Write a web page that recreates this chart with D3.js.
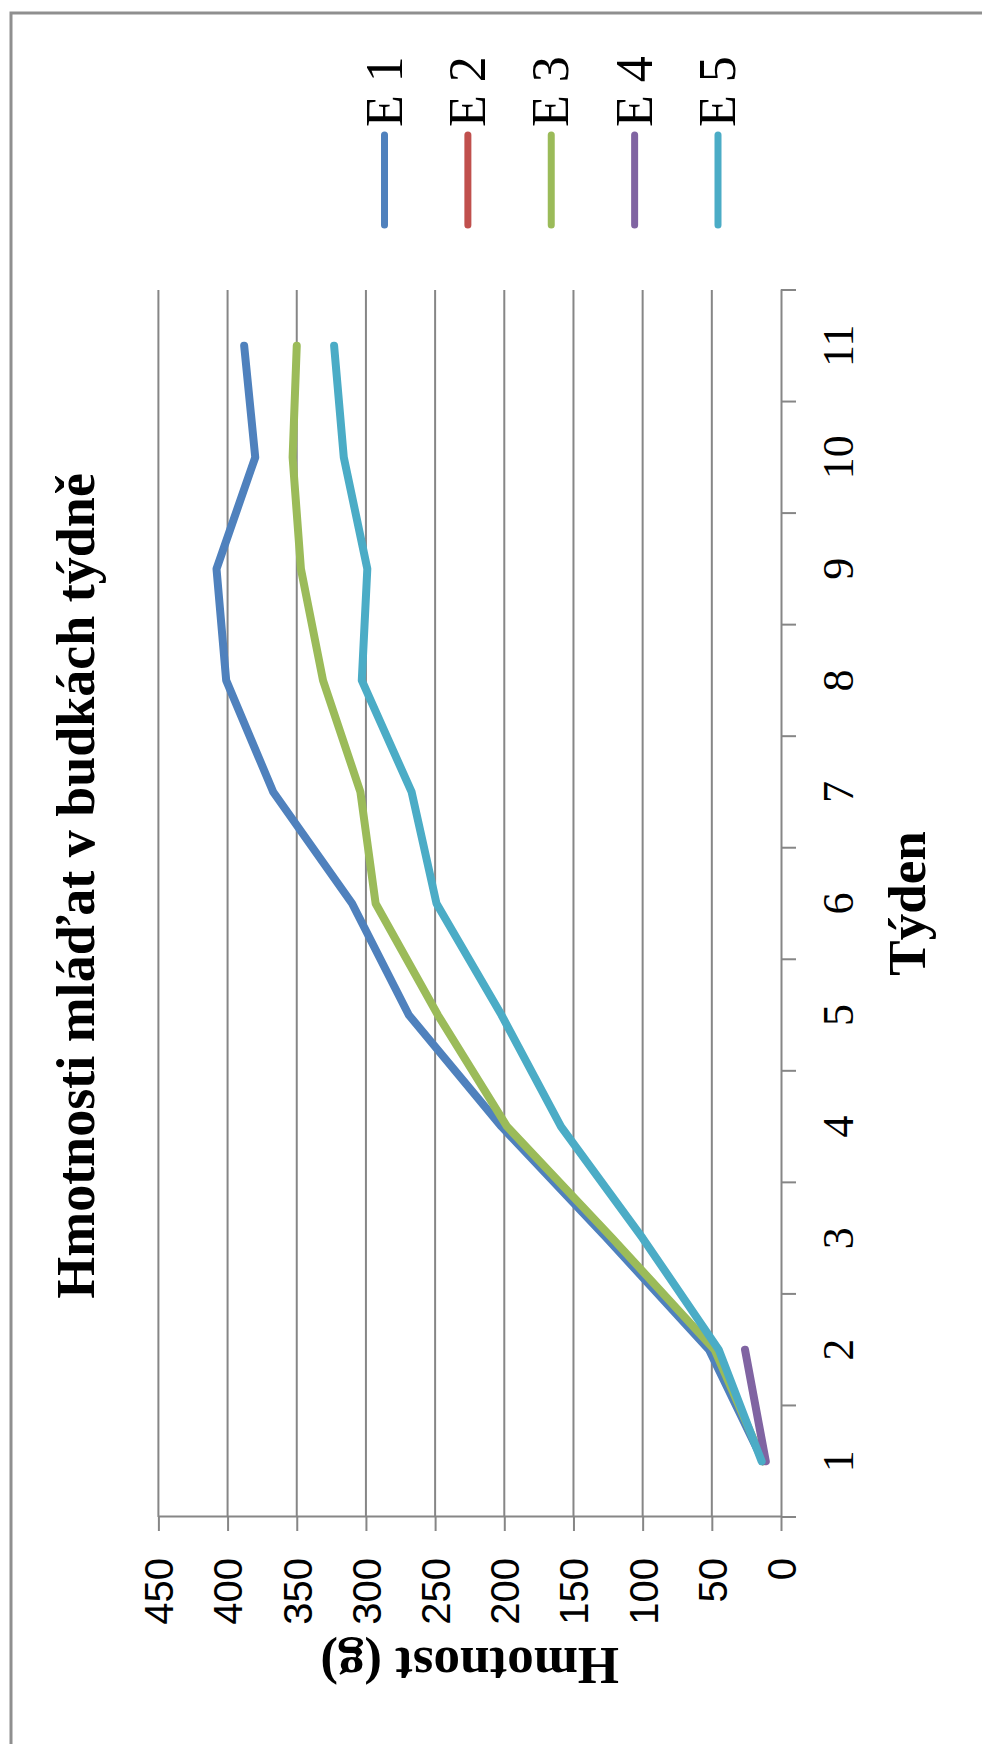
<!DOCTYPE html>
<html>
<head>
<meta charset="utf-8">
<script src="https://cdn.jsdelivr.net/npm/d3@7"></script>
<style>
  html, body { margin: 0; padding: 0; background: #ffffff; }
  svg { display: block; }
</style>
</head>
<body>
<script>
// Weekly weights of the nest-box chicks (grams), one series per box
const weeks = [1, 2, 3, 4, 5, 6, 7, 8, 9, 10, 11];
const seriesNames = ["E 1", "E 2", "E 3", "E 4", "E 5"];
const e1 = [13, 52, 126, 202, 269, 310, 367, 401, 408, 380, 388];
const e2 = [null, null, null, null, null, null, null, null, null, null, null];
const e3 = [13, 48, 122, 198, 248, 293, 304, 331, 347, 353, 350];
const e4 = [11, 26, null, null, null, null, null, null, null, null, null];
const e5 = [14, 45, 100, 159, 202, 249, 267, 303, 299, 316, 323];
const valueTicks = [0, 50, 100, 150, 200, 250, 300, 350, 400, 450];
const colors = ["#4F81BD", "#C0504D", "#9BBB59", "#8064A2", "#4BACC6"];

const title = "Hmotnosti mláďat v budkách týdně";
const xTitle = "Týden";
const yTitle = "Hmotnost (g)";

const PAGE_W = 982, PAGE_H = 1744;
// The chart is laid out landscape (PAGE_H wide, PAGE_W tall) and turned a quarter turn.
const CW = PAGE_H, CH = PAGE_W;

const svg = d3.select("body").append("svg")
  .attr("width", PAGE_W).attr("height", PAGE_H);

const chart = svg.append("g")
  .attr("transform", `translate(0,${PAGE_H}) rotate(-90)`);

const GRID = "#868686";
const plot = { left: 227, right: 1454, top: 158.4, bottom: 781 };

// frame of the chart area
chart.append("rect")
  .attr("x", -20).attr("y", 11)
  .attr("width", 1731 + 20).attr("height", CH + 20)
  .attr("fill", "none").attr("stroke", "#8f8f8f").attr("stroke-width", 3);

const x = d3.scaleBand().domain(weeks).range([plot.left, plot.right]).paddingInner(0).paddingOuter(0);
const y = d3.scaleLinear().domain([0, 450]).range([plot.bottom, plot.top]);

// horizontal gridlines
chart.append("g").selectAll("line").data(valueTicks.filter(v => v > 0)).join("line")
  .attr("x1", plot.left).attr("x2", plot.right)
  .attr("y1", d => y(d)).attr("y2", d => y(d))
  .attr("stroke", GRID).attr("stroke-width", 2);

// value axis
const yAxis = chart.append("g")
  .attr("transform", `translate(${plot.left},0)`)
  .call(d3.axisLeft(y).tickValues(valueTicks).tickSize(14).tickPadding(27).tickSizeOuter(0));
yAxis.select(".domain").attr("stroke", GRID).attr("stroke-width", 2);
yAxis.selectAll(".tick line").attr("stroke", GRID).attr("stroke-width", 2);
yAxis.selectAll(".tick text")
  .attr("fill", "#000").attr("dy", "0.36em")
  .style("font-family", "'Liberation Sans', Arial, sans-serif")
  .style("font-size", "40px");

// category axis: labels centred in each week, ticks on week boundaries
const xAxis = chart.append("g")
  .attr("transform", `translate(0,${plot.bottom})`)
  .call(d3.axisBottom(x).tickSize(0).tickPadding(0).tickSizeOuter(0));
xAxis.select(".domain").attr("stroke", GRID).attr("stroke-width", 2);
xAxis.selectAll(".tick text")
  .attr("fill", "#000").attr("y", 72).attr("dy", 0)
  .style("font-family", "'Liberation Serif', 'Times New Roman', serif")
  .style("font-size", "44px");
const bounds = weeks.map(w => x(w)).concat([x(weeks[weeks.length - 1]) + x.bandwidth()]);
xAxis.append("g").selectAll("line").data(bounds).join("line")
  .attr("x1", d => d).attr("x2", d => d)
  .attr("y1", 0).attr("y2", 15)
  .attr("stroke", GRID).attr("stroke-width", 2);

// series lines
const series = [e1, e2, e3, e4, e5].map((vals, i) => ({
  name: seriesNames[i], color: colors[i],
  points: weeks.map((w, j) => ({ w, v: vals[j] }))
}));
const line = d3.line()
  .defined(d => d.v !== null)
  .x(d => x(d.w) + x.bandwidth() / 2)
  .y(d => y(d.v));
chart.append("g").selectAll("path").data(series).join("path")
  .attr("d", s => line(s.points))
  .attr("fill", "none")
  .attr("stroke", s => s.color)
  .attr("stroke-width", 8)
  .attr("stroke-linecap", "round")
  .attr("stroke-linejoin", "round");

// titles
const serifBold = "'Liberation Serif', 'Times New Roman', serif";
chart.append("text")
  .attr("x", 858).attr("y", 93.5)
  .attr("text-anchor", "middle")
  .style("font-family", serifBold).style("font-weight", "bold").style("font-size", "54px")
  .text(title);
chart.append("text")
  .attr("x", (plot.left + plot.right) / 2).attr("y", 925)
  .attr("text-anchor", "middle")
  .style("font-family", serifBold).style("font-weight", "bold").style("font-size", "53px")
  .text(xTitle);
chart.append("text")
  .attr("transform", `translate(96,${(plot.top + plot.bottom) / 2}) rotate(-90)`)
  .attr("text-anchor", "middle")
  .style("font-family", serifBold).style("font-weight", "bold").style("font-size", "53px")
  .text(yTitle);

// legend
const legendY = d3.scalePoint().domain(seriesNames).range([384.5, 718]);
const legend = chart.append("g").selectAll("g").data(series).join("g")
  .attr("transform", s => `translate(0,${legendY(s.name)})`);
legend.append("line")
  .attr("x1", 1519).attr("x2", 1609).attr("y1", 0).attr("y2", 0)
  .attr("stroke", s => s.color).attr("stroke-width", 7).attr("stroke-linecap", "round");
legend.append("text")
  .attr("x", 1617).attr("y", 0).attr("dy", "0.33em")
  .style("font-family", "'Liberation Serif', 'Times New Roman', serif")
  .style("font-size", "52px")
  .text(s => s.name);
</script>
</body>
</html>
